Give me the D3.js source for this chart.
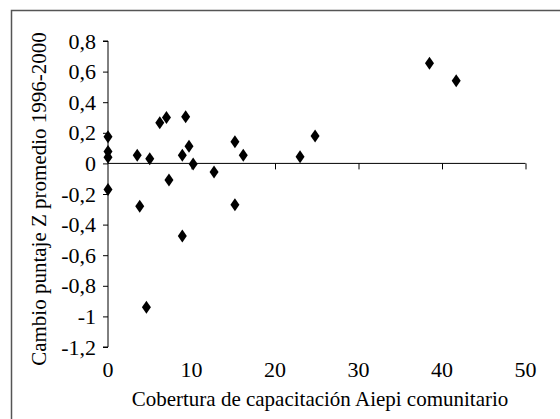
<!DOCTYPE html>
<html>
<head>
<meta charset="utf-8">
<script src="https://cdn.jsdelivr.net/npm/d3@7"></script>
<style>
  body { margin: 0; background: #fff; }
  text { font-family: "Liberation Serif", "DejaVu Serif", serif !important; }
</style>
</head>
<body>
<script>
// data
const cobertura = [0, 0, 0, 0, 3.5, 5.0, 3.8, 6.2, 7.0, 9.3, 8.9, 9.7, 10.2, 7.3, 12.7, 15.2, 16.2, 15.2, 23.0, 24.8, 38.5, 41.7, 8.9, 4.6];
const cambioZ = [0.175, 0.077, 0.04, -0.17, 0.053, 0.031, -0.28, 0.266, 0.30, 0.305, 0.053, 0.112, -0.004, -0.108, -0.056, 0.142, 0.053, -0.27, 0.044, 0.179, 0.654, 0.54, -0.475, -0.94];
const xTicks = [0, 10, 20, 30, 40, 50];
const yTicks = [0.8, 0.6, 0.4, 0.2, 0, -0.2, -0.4, -0.6, -0.8, -1, -1.2];

const width = 560, height = 419;

const svg = d3.select("body")
    .append("svg")
    .attr("width", width)
    .attr("height", height);

// outer frame (right and bottom run off the picture)
svg.append("rect")
    .attr("x", 11.5).attr("y", 10.5)
    .attr("width", 600).attr("height", 500)
    .attr("fill", "none")
    .attr("stroke", "#555")
    .attr("stroke-width", 1.5);

const x = d3.scaleLinear().domain([0, 50]).range([108, 525.5]);
const y = d3.scaleLinear().domain([-1.2, 0.8]).range([347, 41]);

const fmt = d => String(d).replace(".", ",");

// y axis
const yAxis = svg.append("g")
    .attr("transform", `translate(${x(0)},0)`)
    .call(d3.axisLeft(y).tickValues(yTicks).tickFormat(fmt).tickSize(5).tickPadding(7));
yAxis.selectAll("text").style("font-size", "22px");
yAxis.select(".domain").attr("stroke", "#000").attr("d", `M-5,${y(0.8)}H0V${y(-1.2)}H-5`);

// x axis drawn along y = 0, labels below the plot
const xAxis = svg.append("g")
    .attr("transform", `translate(0,${y(0)})`)
    .call(d3.axisBottom(x).tickValues(xTicks).tickSize(6).tickFormat(""));
xAxis.select(".domain").attr("d", `M${x(0)},0H${x(50)}`);
xAxis.selectAll(".tick").filter(d => d === 0).select("line").remove();

svg.append("g")
    .selectAll("text")
    .data(xTicks)
    .enter()
    .append("text")
    .attr("x", d => x(d))
    .attr("y", 377)
    .attr("text-anchor", "middle")
    .style("font-size", "22px")
    .text(d => d);

// points
svg.append("g")
    .selectAll("path")
    .data(cobertura.map((c, i) => [c, cambioZ[i]]))
    .enter()
    .append("path")
    .attr("transform", d => `translate(${x(d[0])},${y(d[1])})`)
    .attr("d", "M0,-6.5L4.5,0L0,6.5L-4.5,0Z")
    .attr("fill", "#000");

// axis titles
svg.append("text")
    .attr("x", 320)
    .attr("y", 406)
    .attr("text-anchor", "middle")
    .style("font-size", "21px")
    .text("Cobertura de capacitación Aiepi comunitario");

svg.append("text")
    .attr("transform", "translate(46,199) rotate(-90)")
    .attr("text-anchor", "middle")
    .style("font-size", "21px")
    .text("Cambio puntaje Z promedio 1996-2000");
</script>
</body>
</html>
